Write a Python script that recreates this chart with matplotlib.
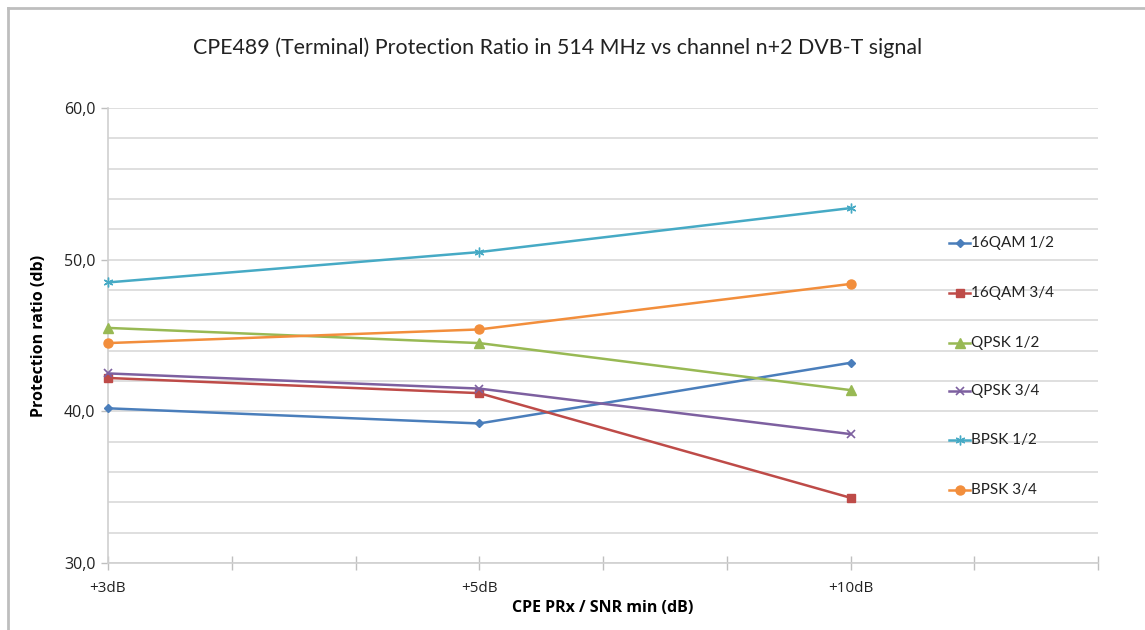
import matplotlib
matplotlib.use("Agg")
import matplotlib.pyplot as plt
from matplotlib.lines import Line2D

# Category labels and their slots on the horizontal axis
categories = ["+3dB", "+5dB", "+10dB"]
cat_pos = [0, 3, 6]

series_names = ["16QAM 1/2", "16QAM 3/4", "QPSK 1/2", "QPSK 3/4", "BPSK 1/2", "BPSK 3/4"]
qam16_12 = [40.2, 39.2, 43.2]
qam16_34 = [42.2, 41.2, 34.3]
qpsk_12 = [45.5, 44.5, 41.4]
qpsk_34 = [42.5, 41.5, 38.5]
bpsk_12 = [48.5, 50.5, 53.4]
bpsk_34 = [44.5, 45.4, 48.4]
series_values = [qam16_12, qam16_34, qpsk_12, qpsk_34, bpsk_12, bpsk_34]

y_ticks = [30, 40, 50, 60]
y_tick_labels = ["30,0", "40,0", "50,0", "60,0"]

colors = ["#4A7EBB", "#BE4B48", "#98B954", "#7D60A0", "#46AAC5", "#F28E3C"]
markers = ["D", "s", "^", "x", (6, 2, 0), "o"]
msizes = [4, 6, 6.5, 6, 7, 6.5]
mews = [1, 1, 1, 1.2, 1.0, 1]

FONT = "Lato"

fig = plt.figure(figsize=(11.45, 6.3), dpi=100)
ax = fig.add_axes([108 / 1145, 1 - 563 / 630, (1098 - 108) / 1145, (563 - 108) / 630])

for name, vals, c, m, ms, mew in zip(series_names, series_values, colors, markers, msizes, mews):
    ax.plot(cat_pos, vals, color=c, lw=1.8, marker=m, markersize=ms,
            markeredgewidth=mew, markerfacecolor=c, markeredgecolor=c,
            label=name, zorder=3, clip_on=False)

ax.set_xlim(0, 8)
ax.set_ylim(30, 60)

# horizontal gridlines every 2 units
for y in range(30, 61, 2):
    ax.axhline(y, color="#D9D9D9", lw=1.2, zorder=1)

ax.set_yticks(y_ticks)
ax.set_yticklabels(y_tick_labels, fontfamily="Open Sans", fontsize=11.5, color="#222222")
ax.set_xticks(range(0, 9))
ax.set_xticklabels([categories[cat_pos.index(i)] if i in cat_pos else "" for i in range(9)],
                   fontfamily="Open Sans", fontsize=11, color="#222222")
ax.tick_params(axis="x", direction="inout", length=10, width=1, color="#BFBFBF", pad=8)
ax.tick_params(axis="y", direction="out", length=5, width=1, color="#BFBFBF", pad=4)

for side in ["top", "right"]:
    ax.spines[side].set_visible(False)
ax.spines["left"].set_color("#D0D0D0")
ax.spines["left"].set_linewidth(1.2)
ax.spines["bottom"].set_color("#D0D0D0")
ax.spines["bottom"].set_linewidth(1.2)

ax.set_ylabel("Protection ratio (db)", fontfamily="Open Sans", fontweight="bold", fontsize=11.5, labelpad=12)
ax.set_xlabel("CPE PRx / SNR min (dB)", fontfamily="Open Sans", fontweight="bold", fontsize=11.5, labelpad=3)

fig.text(558 / 1145, 1 - 48 / 630, "CPE489 (Terminal) Protection Ratio in 514 MHz vs channel n+2 DVB-T signal",
         ha="center", va="center", fontfamily=FONT, fontsize=15.4, color="#222222")

# legend entries drawn in figure pixel space
leg_y = [243, 293, 343, 391, 440, 490]
for name, c, m, ms, mew, yy in zip(series_names, colors, markers, msizes, mews, leg_y):
    yf = 1 - yy / 630
    fig.add_artist(Line2D([949 / 1145, 970 / 1145], [yf, yf], color=c, lw=1.8,
                          transform=fig.transFigure))
    fig.add_artist(Line2D([959.5 / 1145], [yf], color=c, marker=m, markersize=ms,
                          markeredgewidth=mew, markerfacecolor=c, markeredgecolor=c,
                          transform=fig.transFigure))
    fig.text(971 / 1145, yf, name, ha="left", va="center", fontfamily=FONT, fontsize=11, color="#222222")

# outer chart frame (top and left edges)
frame_c = "#BEBEBE"
fig.add_artist(Line2D([8 / 1145, 1], [1 - 8 / 630, 1 - 8 / 630], color=frame_c, lw=2, transform=fig.transFigure))
fig.add_artist(Line2D([8 / 1145, 8 / 1145], [0, 1 - 8 / 630], color=frame_c, lw=2, transform=fig.transFigure))

fig.savefig("out.png", dpi=100, facecolor="white")
